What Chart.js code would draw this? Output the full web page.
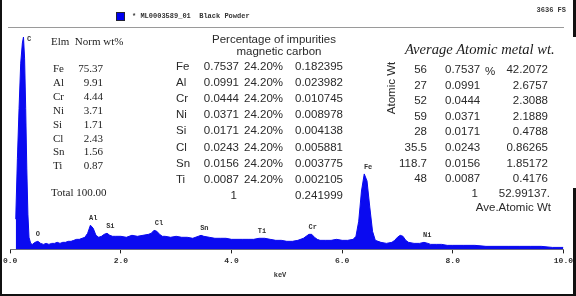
<!DOCTYPE html>
<html>
<head>
<meta charset="utf-8">
<script src="https://cdn.jsdelivr.net/npm/chart.js@4.4.1/dist/chart.umd.min.js"></script>
<style>
  html, body { margin: 0; padding: 0; background: #fff; }
  #wrap { position: relative; width: 576px; height: 296px; overflow: hidden; background: #fff; }
  #spectrum { position: absolute; left: 0; top: 0; }
  .t { position: absolute; white-space: pre; line-height: 1; color: #1c1c1c; }
  .serif { font-family: "Liberation Serif", "DejaVu Serif", serif; font-size: 11px; }
  .sans { font-family: "Liberation Sans", Arial, sans-serif; font-size: 11.5px; color: #2a2a2a; }
  .mono { font-family: "Liberation Mono", "DejaVu Sans Mono", monospace; font-weight: bold; font-size: 7px; color: #333; }
  .bar { position: absolute; background: #111; }
</style>
</head>
<body>
<div id="wrap">
  <canvas id="spectrum" width="576" height="296"></canvas>
</div>
<script>
// EDS spectrum (keV vs counts), full scale 3636
const energyKeV = [
  0.10, 0.13, 0.16, 0.19, 0.22, 0.24, 0.26, 0.28, 0.30, 0.32, 0.34, 0.37, 0.40, 0.45, 0.50, 0.55,
  0.60, 0.65, 0.70, 0.75, 0.80, 0.85, 0.90, 0.95, 1.00, 1.05, 1.10, 1.15, 1.20, 1.25, 1.30, 1.35,
  1.40, 1.45, 1.50, 1.55, 1.60, 1.65, 1.70, 1.75, 1.80, 1.85, 1.90, 2.00, 2.10, 2.20, 2.30, 2.40,
  2.50, 2.55, 2.60, 2.65, 2.70, 2.75, 2.80, 2.90, 3.00, 3.10, 3.20, 3.30, 3.40, 3.45, 3.50, 3.60,
  3.70, 3.80, 3.90, 4.00, 4.10, 4.20, 4.30, 4.40, 4.50, 4.60, 4.70, 4.80, 4.90, 5.00, 5.10, 5.20,
  5.30, 5.35, 5.40, 5.45, 5.50, 5.55, 5.60, 5.70, 5.80, 5.90, 6.00, 6.10, 6.20, 6.25, 6.30, 6.35,
  6.40, 6.45, 6.50, 6.55, 6.60, 6.70, 6.80, 6.90, 6.95, 7.00, 7.05, 7.10, 7.15, 7.20, 7.30, 7.40,
  7.48, 7.55, 7.60, 7.70, 7.80, 7.90, 8.00, 8.20, 8.40, 8.60, 8.80, 9.00, 9.20, 9.40, 9.60, 9.80,
  10.00
];
const counts = [
  517, 1551, 2412, 3188, 3532, 3636, 3274, 2412, 1378, 603, 207, 103, 86, 121, 138, 103,
  86, 103, 86, 103, 103, 121, 103, 121, 121, 138, 138, 155, 172, 172, 190, 207,
  276, 414, 362, 241, 207, 224, 258, 276, 241, 224, 224, 224, 207, 241, 224, 241,
  258, 276, 327, 310, 258, 224, 224, 207, 224, 207, 207, 190, 224, 241, 224, 207,
  190, 190, 190, 172, 172, 172, 172, 172, 190, 190, 172, 155, 155, 138, 138, 155,
  190, 224, 258, 258, 207, 172, 155, 155, 155, 172, 155, 155, 172, 224, 482, 999,
  1292, 1172, 724, 310, 155, 121, 103, 121, 155, 207, 241, 224, 155, 121, 103, 103,
  121, 103, 86, 86, 86, 69, 69, 69, 69, 52, 52, 52, 52, 52, 52, 34,
  34
];
const fullScale = 3636;
const xTicks = [0, 2, 4, 6, 8, 10];

// peak identification labels
const peakNames = ['C', 'O', 'Al', 'Si', 'Cl', 'Sn', 'Ti', 'Cr', 'Fe', 'Ni'];
const peakKeV = [0.34, 0.50, 1.50, 1.81, 2.69, 3.51, 4.55, 5.47, 6.47, 7.54];

// tables
const elements = ['Fe', 'Al', 'Cr', 'Ni', 'Si', 'Cl', 'Sn', 'Ti'];
const normWt = ['75.37', '9.91', '4.44', '3.71', '1.71', '2.43', '1.56', '0.87'];
const normTotal = '100.00';
const fraction = ['0.7537', '0.0991', '0.0444', '0.0371', '0.0171', '0.0243', '0.0156', '0.0087'];
const carbonShare = '24.20%';
const impurity = ['0.182395', '0.023982', '0.010745', '0.008978', '0.004138', '0.005881', '0.003775', '0.002105'];
const impuritySum = '0.241999';
const atomicWt = ['56', '27', '52', '59', '28', '35.5', '118.7', '48'];
const weighted = ['42.2072', '2.6757', '2.3088', '2.1889', '0.4788', '0.86265', '1.85172', '0.4176'];
const avgAtomicWt = '52.99137.';

const wrap = document.getElementById('wrap');
function put(text, x, y, cls, align, extra) {
  const d = document.createElement('div');
  d.className = 't ' + cls;
  d.textContent = text;
  d.style.top = y + 'px';
  let tx = '0';
  if (align === 'right') { d.style.right = (576 - x) + 'px'; }
  else { d.style.left = x + 'px'; if (align === 'center') tx = '-50%'; }
  d.style.transform = 'translate(' + tx + ',-50%)' + (extra || '');
  wrap.appendChild(d);
  return d;
}

// header
const sq = document.createElement('div');
sq.style.cssText = 'position:absolute;left:116px;top:12px;width:7px;height:7px;background:#0000f0;border:1px solid #223;';
wrap.appendChild(sq);
put('* ML0003589_01  Black Powder', 132, 16, 'mono', 'left');
put('3636 FS', 566, 10, 'mono', 'right');
const rule = document.createElement('div');
rule.style.cssText = 'position:absolute;left:8px;top:27px;width:556px;height:1px;background:#9a9a9a;';
wrap.appendChild(rule);

// left table: normalised weight %
put('Elm  Norm wt%', 51, 41, 'serif', 'left');
elements.forEach((el, i) => {
  const y = 68 + i * 13.9;
  put(el, 53, y, 'serif', 'left');
  put(normWt[i], 103, y, 'serif', 'right');
});
put('Total ' + normTotal, 51, 192, 'serif', 'left');

// middle table: impurities in magnetic carbon
put('Percentage of impurities', 274, 40, 'sans', 'center');
put('magnetic carbon', 279, 52, 'sans', 'center');
elements.forEach((el, i) => {
  const y = 67 + i * 16.1;
  put(el, 176, y, 'sans', 'left');
  put(fraction[i], 239, y, 'sans', 'right');
  put(carbonShare, 244, y, 'sans', 'left');
  put(impurity[i], 343, y, 'sans', 'right');
});
put('1', 237, 196, 'sans', 'right');
put(impuritySum, 343, 196, 'sans', 'right');

// right table: average atomic metal weight
const hdr = put('Average Atomic metal wt.', 405, 49, 'serif', 'left');
hdr.style.fontStyle = 'italic';
hdr.style.fontSize = '14.6px';
put('Atomic Wt', 392, 88, 'sans', 'center', ' rotate(-90deg)');
atomicWt.forEach((w, i) => {
  const y = 70 + i * 15.6;
  put(w, 427, y, 'sans', 'right');
  put(fraction[i], 445, y, 'sans', 'left');
  put(weighted[i], 548, y, 'sans', 'right');
});
put('%', 485, 72, 'sans', 'left');
put('1', 478, 194, 'sans', 'right');
put(avgAtomicWt, 550, 194, 'sans', 'right');
put('Ave.Atomic Wt', 551, 208, 'sans', 'right');
put('keV', 280, 275, 'mono', 'center');

// frame pieces
[['0px', '0px', '2px', '296px'], ['0px', '294px', '576px', '2px'],
 ['573px', '0px', '3px', '37px'], ['573px', '188px', '3px', '108px']].forEach(b => {
  const d = document.createElement('div');
  d.className = 'bar';
  d.style.left = b[0]; d.style.top = b[1]; d.style.width = b[2]; d.style.height = b[3];
  wrap.appendChild(d);
});

const peakLabelPlugin = {
  id: 'peakLabels',
  afterDatasetsDraw(chart) {
    const ctx = chart.ctx;
    const xs = chart.scales.x, ys = chart.scales.y;
    ctx.save();
    ctx.font = 'bold 7px "Liberation Mono", monospace';
    ctx.fillStyle = '#333';
    ctx.textAlign = 'center';
    ctx.textBaseline = 'middle';
    peakNames.forEach((name, i) => {
      let peak = 0;
      energyKeV.forEach((e, j) => {
        if (Math.abs(e - peakKeV[i]) <= 0.12 && counts[j] > peak) peak = counts[j];
      });
      const y = Math.max(ys.getPixelForValue(peak) - 7, chart.chartArea.top + 2);
      ctx.fillText(name, xs.getPixelForValue(peakKeV[i]), y);
    });
    ctx.restore();
  }
};

new Chart(document.getElementById('spectrum'), {
  type: 'line',
  data: {
    datasets: [{
      data: energyKeV.map((e, i) => ({ x: e, y: counts[i] })),
      borderColor: '#0a0af0',
      backgroundColor: '#0a0af0',
      borderWidth: 1,
      pointRadius: 0,
      fill: 'origin',
      tension: 0
    }]
  },
  options: {
    responsive: false,
    animation: false,
    layout: { padding: { left: 9, right: 9, top: 37, bottom: 27 } },
    plugins: { legend: { display: false }, tooltip: { enabled: false } },
    scales: {
      x: {
        type: 'linear',
        min: 0,
        max: 10,
        afterBuildTicks: (axis) => { axis.ticks = xTicks.map(v => ({ value: v })); },
        ticks: {
          callback: (v) => v.toFixed(1),
          font: { family: '"Liberation Mono", monospace', size: 8, weight: 'bold' },
          color: '#333',
          padding: 3,
          maxRotation: 0
        },
        grid: { drawOnChartArea: false, drawTicks: true, tickLength: 4, color: '#222' },
        border: { display: true, color: '#777', width: 1 }
      },
      y: {
        display: false,
        min: 0,
        max: fullScale
      }
    }
  },
  plugins: [peakLabelPlugin]
});
</script>
</body>
</html>
